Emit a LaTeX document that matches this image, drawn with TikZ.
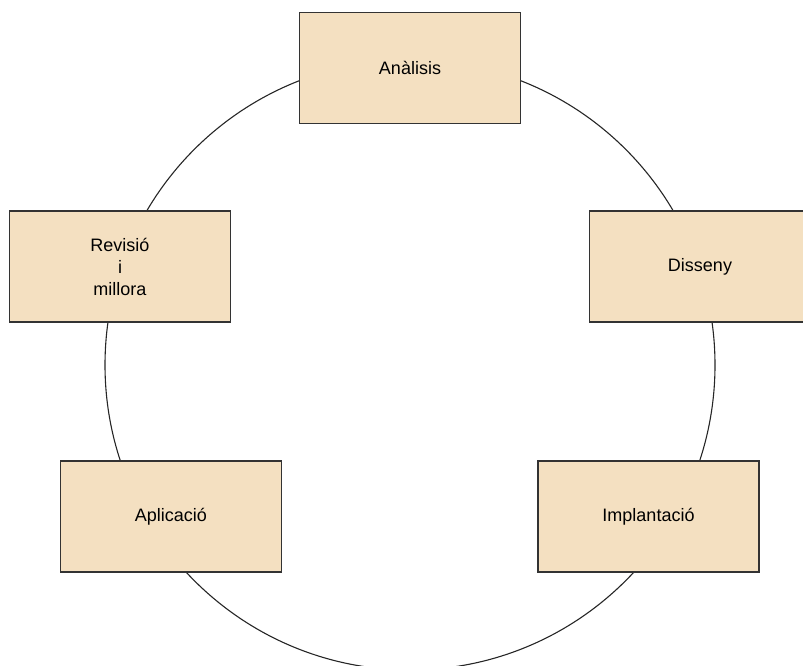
\documentclass[tikz,border=0pt]{standalone}
\usepackage{tikz, xcolor}
\usepackage{fontspec}
\setmainfont{Liberation Sans}
\newcommand{\unitsize}{1pt}
\definecolor{phasefill}{HTML}{F4E0C1}
\definecolor{phaseline}{HTML}{333333}

\begin{document}
\begin{tikzpicture}
\useasboundingbox (0,0) rectangle (803*\unitsize,-666*\unitsize);
\clip (0,0) rectangle (803*\unitsize,-666*\unitsize);
\tikzstyle{phase}=[draw=phaseline,
			rectangle,
			fill=phasefill,
			line width=1.2pt,
			minimum width  = 221*\unitsize,
			minimum height = 111*\unitsize,
			align=center,
			inner sep=0pt,
			font=\fontsize{18}{22}\selectfont
			]


\draw[line width=1.1pt, color=black!85] (410*\unitsize,-365*\unitsize) circle (305*\unitsize);


\node[phase] (analisis) at (410*\unitsize,-68*\unitsize) {Anàlisis};


\node[phase] (disseny) at (700*\unitsize,-266.5*\unitsize) {Disseny};


\node[phase] (implantacio) at (648.5*\unitsize,-516.5*\unitsize) {Implantació};


\node[phase] (aplicacio) at (171*\unitsize,-516.5*\unitsize) {Aplicació};


\node[phase] (revisio) at (120*\unitsize,-266.5*\unitsize) {Revisió\\i\\millora};

\end{tikzpicture}
\end{document}
